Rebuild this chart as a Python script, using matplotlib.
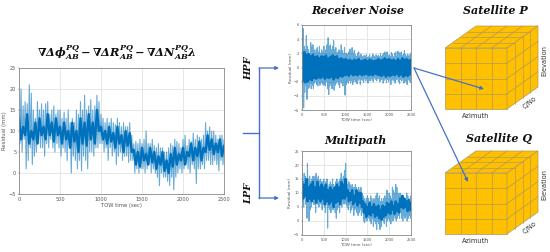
import matplotlib
matplotlib.use('Agg')
import matplotlib.pyplot as plt
import numpy as np
from matplotlib.patches import Polygon

plt.rcParams['mathtext.fontset'] = 'dejavuserif'

# residuals, upper and lower spikes every 25 s, dark core every 50 s
total_hi = [14,20,16,17,16.5,21,19,15,13,17,15,16.5,15,16.5,17,14,15,16,14,15,15,13,14.5,13,15,12,13,12,15,14,17,15,18.5,15,16,17.5,15,16,18.5,17,14,13,12,13,12,13,12,11.5,13,12,11,12,11,11,12,9,7,7.5,7,8,7,8,10,7,7,8,6.5,6,7,6,6,5,5,6,7,6.5,8,7.5,7,6,8,9,6.5,8,7.5,9.5,8,9,8.5,8,9,12,10,11,10,10,9,8,9,9,8]
total_lo = [7,5,8,1,3,6,2,4,5,7,6,6,4,7,6,8,6,5,7,6,4,6,5,3,6,0,4,3,1,3,0.5,4,3,1,5,5,4,6,6,7,7,5,6,3,6,4,5,2,4,5,3,4,4,2.5,3,3,0,1,0,1,1,0,1,2,0,1,0,-1,-3,0,-1,-1,-2,-3,-1,-4,-1,0,1,0,1,2,1,0,2,1,-2.5,1,1,2,1,3,3,2,2,3,2,0.5,3,2,3]
total_t_core = [0,50,100,150,200,250,300,350,400,450,500,550,600,650,700,750,800,850,900,950,1000,1050,1100,1150,1200,1250,1300,1350,1400,1450,1500,1550,1600,1650,1700,1750,1800,1850,1900,1950,2000,2050,2100,2150,2200,2250,2300,2350,2400,2450,2500]
total_core_hi = [13,11,14,10,12,13,11,14,12,13,11,12,10,12,10,13,12,14,12,15,11,10,11,9.5,11,9,10,9.5,5.5,5,6,4.5,6,5,4,5,3,4.5,6,4.5,6,5,7,6,7.5,6,9,8,7,8,6.5]
total_core_lo = [8,9,7,8,7,9,8,9,7.5,9,7,8,6,7.5,5,7,6.5,8,7,10,8,7,7.5,6,7,5,6.5,5,2,1.5,3,2,2.5,1,2,0.5,0,1.5,2,3,2,4,3,4,3,5,5.5,4.5,5,4,4.5]

noise_hi = [2.5,5.5,3,2.5,4.5,3,2.5,2,3.5,3,3.2,2.5,2,2.5,2.8,2.2,3,2,2.5,2.2,3,2,2.5,3.2,4.2,3,3.2,2.5,3,3.8,2.5,2.8,2,2.2,2.5,2.2,3.2,2.4,2,2.8,2,2,1.8,2.2,2.6,2,2.8,2,2.4,1.8,1.6,2,2.2,1.6,1.9,1.6,1.4,1.7,1.5,1.8,1.4,1.5,1.8,1.4,1.5,1.9,1.6,1.4,1.8,1.5,1.7,1.5,2,1.6,1.8,2,2.2,1.8,2.2,1.6,1.8,1.5,2.1,1.9,1.5,2,2.2,1.6,2.3,2.1,1.8,2.2,1.7,1.9,2.4,1.8,1.6,1.9,1.5,1.8,2]
noise_lo = [-2.5,-5.7,-3.5,-2.5,-4.5,-3,-2.8,-2.2,-3,-2.5,-3,-2.2,-2,-2.4,-2.6,-2,-2.5,-2,-2.2,-2.5,-2.4,-2.6,-2,-3,-3.8,-2.6,-2.2,-3,-2.4,-3.2,-2.5,-2.2,-2,-2.4,-2.8,-2,-2.2,-2.6,-2,-3.9,-2.4,-2,-2.2,-1.8,-2.2,-1.9,-2.4,-2,-1.7,-2,-2.3,-1.8,-1.6,-2.4,-1.7,-1.8,-2.1,-1.6,-1.9,-1.5,-2.2,-1.6,-1.9,-1.5,-1.8,-2,-1.5,-1.7,-1.9,-1.6,-1.5,-2,-1.7,-1.6,-2.2,-1.8,-1.6,-2.1,-1.7,-2,-1.6,-2.4,-1.8,-1.6,-1.9,-2.2,-1.7,-1.6,-2,-2.3,-1.7,-1.9,-1.6,-2.2,-1.8,-2,-2.4,-1.7,-1.9,-2.1,-1.8]
noise_core_hi = [1.9,2.2,1.8,1.9,1.6,1.8,1.5,1.6,1.3,1.6,1.5,1.7,1.3,1.5,1.7,1.5,1.6,1.2,1.3,1.1,1.2,1,1.1,0.9,1.1,1,1.2,0.9,1,1.1,0.9,1.1,1,0.9,1,1.2,1,1.1,1.3,1.1,1.2,1,1.1,0.9,1.2,1,1.3,1.1,1.2,1,1.1]
noise_core_lo = [-1.9,-2.1,-2,-1.7,-1.8,-1.5,-1.6,-1.4,-1.5,-1.3,-1.6,-1.4,-1.5,-1.3,-1.7,-1.4,-1.5,-1.2,-1.3,-1.1,-1,-1.2,-0.9,-1.1,-1,-1.1,-0.9,-1.1,-1,-0.9,-1.1,-1,-1.1,-0.9,-1,-1.1,-1.2,-1,-1.3,-1.1,-1.2,-1,-1.1,-0.9,-1.2,-1,-1.3,-1.1,-1.2,-1,-1.1]

path_hi = [18,14,17,16,15,20.5,15,16,14,15,16,15,16,17,15,16,14.5,15,14,14,15,13,14,15,12,13,14,13,15,13,12,14,15,13,14,15,17,15,16,18,20.5,15,13,14,13,12,13,12,12,13,12,11,12,11,12,10,9,8,7,8,9,8,7,9,8,7,8,7,9,10,8,9,7,8,7,8,9,8,11,8,10,9,8,12,11,10,13,12,10,9,10,9,8,9,8,7,10,9,8,7,9]
path_lo = [7,5,8,6,1,7,0,4,5,7,6,6,3,7,6,5,8,6,4,6,5,3,6,-2.5,5,4,3,6,4,5,3,1,4,5,3,6,5,7,6,7,6,5,4,6,3,4,5,2,4,5,3,2,3,4,2,3,0,-0.5,1,0,2,1,0,-1,1,-2,0,-1,-3,0,-1,-3,-2,1,0,-1,1,-2,0,1,0,-1,1,0,2,1,0,1,2,1,3,1,0,2,1,2,0,1,2,1,2]
path_core_hi = [14,13,15,12,13,14,12,14,12,13,12,13,11,12,11,12,13,12,14,13,15,11,10,11,9,11,10,10,7,6,5,6.5,5,6,5,5.5,4,5.5,5,6.5,6,7,5.5,7,6,8,9,8,7,7.5,6.5]
path_core_lo = [8,9,7,8,7,8,6.5,8,7,8,6,7,6,7,5,6.5,7,6,8,8,9,7,7.5,6,7,5.5,6.5,5,3,1.5,2.5,2,3,1.5,2,1,0.5,1.5,2,3,2.5,4,2.5,3.5,3,5,4.5,5,3.5,4,3]

x_ticks = [0,500,1000,1500,2000,2500]
total_y_ticks = [-5,0,5,10,15,20,25]
noise_y_ticks = [-6,-4,-2,0,2,4,6]
n_cells = 4

BLUE = '#0072bd'
ARROW = '#4472c4'
W, H = 550.0, 252.0


def zigzag(t, hi, lo, step):
    # alternate between upper and lower value so it looks like the raw trace
    x = np.empty(2*len(t))
    y = np.empty(2*len(t))
    x[0::2] = t
    x[1::2] = np.array(t)+step/2
    y[0::2] = hi
    y[1::2] = lo
    return x, y


def residual_axes(fig, box, hi, lo, core_hi, core_lo, yticks, fs, lab_fs):
    left, top, right, bottom = box
    ax = fig.add_axes([left/W, 1-bottom/H, (right-left)/W, (bottom-top)/H])
    t = np.arange(len(hi))*25
    x, y = zigzag(t, hi, lo, 25)
    ax.plot(x, y, color=BLUE, alpha=0.6, lw=0.8)
    x, y = zigzag(total_t_core, core_hi, core_lo, 50)
    ax.plot(x, y, color=BLUE, lw=1.7)
    ax.set_xlim(0, 2500)
    ax.set_ylim(yticks[0], yticks[-1])
    ax.set_xticks(x_ticks)
    ax.set_yticks(yticks)
    ax.grid(color='#dddddd', lw=0.5)
    ax.set_axisbelow(True)
    ax.tick_params(labelsize=fs, length=1, width=0.3, pad=1, colors='#555555')
    ax.set_xlabel('TOW time (sec)', fontsize=lab_fs, color='#555555', labelpad=1)
    ax.set_ylabel('Residual (mm)', fontsize=lab_fs, color='#555555', labelpad=1)
    for s in ax.spines.values():
        s.set_linewidth(0.6)
        s.set_color('#888888')
    return ax


def cube(ov, x0, y0):
    # front face corners, depth offset goes up and to the right
    size_x, size_y = 62, 61
    dx, dy = 31, -22
    face = '#ffc000'
    edge = '#b09a5a'
    front = [(x0, y0), (x0+size_x, y0), (x0+size_x, y0+size_y), (x0, y0+size_y)]
    top = [(x0, y0), (x0+dx, y0+dy), (x0+size_x+dx, y0+dy), (x0+size_x, y0)]
    side = [(x0+size_x, y0), (x0+size_x+dx, y0+dy), (x0+size_x+dx, y0+size_y+dy), (x0+size_x, y0+size_y)]
    for p in (front, top, side):
        ov.add_patch(Polygon(p, closed=True, fc=face, ec=edge, lw=0.5))
    for i in range(1, n_cells):
        f = i/n_cells
        ov.plot([x0+f*size_x]*2, [y0, y0+size_y], color=edge, lw=0.5)
        ov.plot([x0, x0+size_x], [y0+f*size_y]*2, color=edge, lw=0.5)
        ov.plot([x0+f*size_x, x0+f*size_x+dx], [y0, y0+dy], color=edge, lw=0.5)
        ov.plot([x0+f*dx, x0+size_x+f*dx], [y0+f*dy]*2, color=edge, lw=0.5)
        ov.plot([x0+size_x+f*dx]*2, [y0+f*dy, y0+size_y+f*dy], color=edge, lw=0.5)
        ov.plot([x0+size_x, x0+size_x+dx], [y0+f*size_y, y0+f*size_y+dy], color=edge, lw=0.5)
    ov.text(x0+31, y0+68, 'Azimuth', fontsize=4.8, color='#333333', ha='center', va='center')
    ov.text(x0+99, y0+12, 'Elevation', fontsize=4.8, color='#333333', rotation=90, ha='center', va='center')
    ov.text(x0+85, y0+55, 'C/No', fontsize=4.8, color='#333333', rotation=40, ha='center', va='center')


fig = plt.figure(figsize=(5.5, 2.52), dpi=100)

residual_axes(fig, (19, 68, 224, 194), total_hi, total_lo, total_core_hi, total_core_lo, total_y_ticks, 3.6, 3.8)
residual_axes(fig, (302, 25, 411, 110), noise_hi, noise_lo, noise_core_hi, noise_core_lo, noise_y_ticks, 2.6, 3)
residual_axes(fig, (302, 151, 411, 235), path_hi, path_lo, path_core_hi, path_core_lo, total_y_ticks, 2.6, 3)

ov = fig.add_axes([0, 0, 1, 1], zorder=5)
ov.set_xlim(0, W)
ov.set_ylim(H, 0)
ov.axis('off')

cube(ov, 445, 48)
cube(ov, 445, 173)

ov.text(117, 53, r'$\mathbfit{\nabla\Delta\phi_{AB}^{PQ}-\nabla\Delta R_{AB}^{PQ}-\nabla\Delta N_{AB}^{PQ}\lambda}$',
        fontsize=8.2, ha='center', va='center', color='#111111')

title_font = dict(family='DejaVu Serif', fontweight='bold', fontstyle='italic',
                  color='#111111', ha='center', va='center')
ov.text(358, 10, 'Receiver Noise', fontsize=8, **title_font)
ov.text(355, 141, 'Multipath', fontsize=8, **title_font)
ov.text(495, 10, 'Satellite P', fontsize=8, **title_font)
ov.text(499, 139, 'Satellite Q', fontsize=8, **title_font)
ov.text(249, 68, 'HPF', rotation=90, fontsize=7, **title_font)
ov.text(249, 193, 'LPF', rotation=90, fontsize=7, **title_font)

# bracket and arrows
ov.plot([259, 259], [68, 198], color=ARROW, lw=1)
ov.plot([243, 259], [133, 133], color=ARROW, lw=1)
for start, end in [((259, 68), (279, 68)), ((259, 198), (279, 198)),
                   ((414, 68), (484, 89)), ((414, 68), (468, 182))]:
    ov.annotate('', xy=end, xytext=start,
                arrowprops=dict(arrowstyle='-|>', color=ARROW, lw=0.9, mutation_scale=5,
                                shrinkA=0, shrinkB=0))

fig.savefig('out.png', dpi=100)
